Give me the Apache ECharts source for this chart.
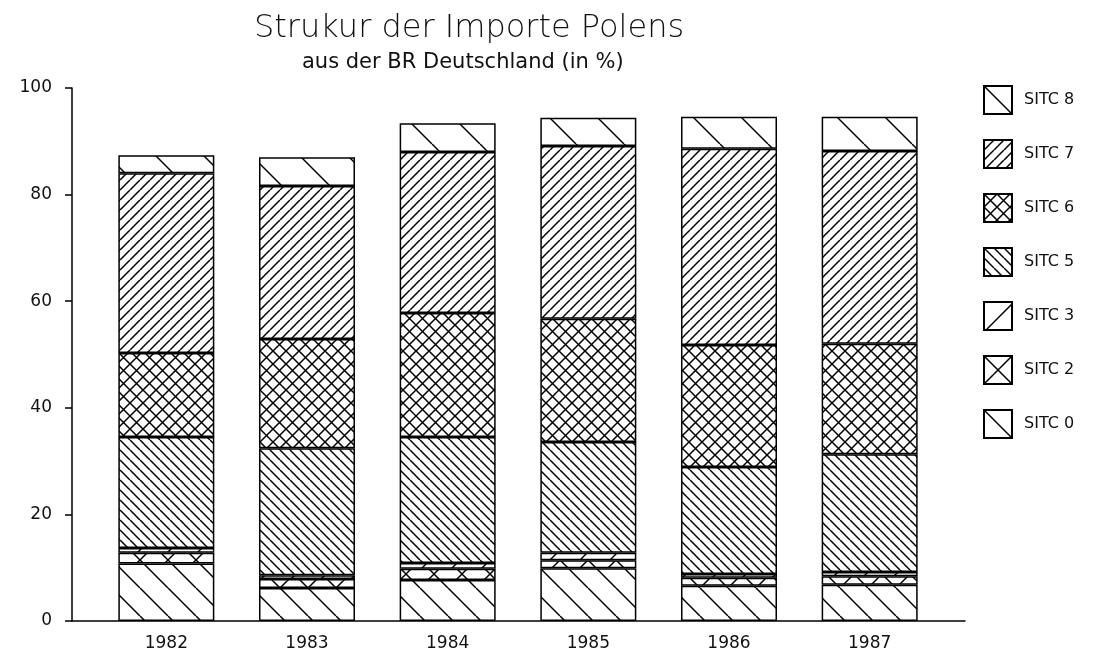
<!DOCTYPE html>
<html>
<head>
<meta charset="utf-8">
<script src="https://cdn.jsdelivr.net/npm/echarts@6/dist/echarts.min.js"></script>
<style>
  html, body { margin: 0; padding: 0; background: #fff; }
  #main { width: 1120px; height: 661px; }
</style>
</head>
<body>
<div id="main"></div>
<script>
let years = ["1982", "1983", "1984", "1985", "1986", "1987"];
let sitc0 = [10.8, 6.2, 7.7, 9.9, 6.6, 6.8];
let sitc2 = [2.0, 1.7, 2.1, 1.5, 1.5, 1.6];
let sitc3 = [0.9, 0.7, 1.1, 1.4, 0.7, 0.8];
let sitc5 = [20.8, 23.8, 23.6, 20.8, 20.1, 22.1];
let sitc6 = [15.8, 20.5, 23.3, 23.1, 22.9, 20.7];
let sitc7 = [33.7, 28.7, 30.2, 32.4, 36.8, 36.2];
let sitc8 = [3.4, 5.4, 5.4, 5.3, 6.0, 6.4];

// hatch tile: "back" = \  "fwd" = /
function hatch(size, dirs) {
  let c = document.createElement("canvas");
  c.width = size;
  c.height = size;
  let ctx = c.getContext("2d");
  ctx.fillStyle = "#fff";
  ctx.fillRect(0, 0, size, size);
  ctx.strokeStyle = "#000";
  ctx.lineWidth = 1.5;
  for (let k = -1; k <= 1; k++) {
    let x0 = k * size;
    ctx.beginPath();
    if (dirs.indexOf("back") >= 0) {
      ctx.moveTo(x0, 0);
      ctx.lineTo(x0 + size, size);
    }
    if (dirs.indexOf("fwd") >= 0) {
      ctx.moveTo(x0, size);
      ctx.lineTo(x0 + size, 0);
    }
    ctx.stroke();
  }
  return { image: c, repeat: "repeat" };
}

let series = [
  { name: "SITC 0", data: sitc0, fill: hatch(28, ["back"]) },
  { name: "SITC 2", data: sitc2, fill: hatch(28, ["back", "fwd"]) },
  { name: "SITC 3", data: sitc3, fill: hatch(30, ["fwd"]) },
  { name: "SITC 5", data: sitc5, fill: hatch(10, ["back"]) },
  { name: "SITC 6", data: sitc6, fill: hatch(13, ["back", "fwd"]) },
  { name: "SITC 7", data: sitc7, fill: hatch(10, ["fwd"]) },
  { name: "SITC 8", data: sitc8, fill: hatch(48, ["back"]) }
].map(function (s) {
  return {
    name: s.name,
    type: "bar",
    stack: "total",
    xAxisIndex: 1,
    yAxisIndex: 1,
    barWidth: 96,
    animation: false,
    itemStyle: {
      color: s.fill,
      borderColor: "#000",
      borderWidth: 1.5
    },
    data: s.data
  };
});

let mycharts = echarts.init(document.getElementById("main"));
let option = {
  backgroundColor: "#fff",
  title: [
    {
      text: "Strukur der Importe Polens",
      left: 249,
      top: 8,
      textStyle: {
        fontFamily: "DejaVu Sans",
        fontWeight: 200,
        fontSize: 32,
        color: "#111"
      }
    },
    {
      text: "aus der BR Deutschland (in %)",
      left: 297,
      top: 47,
      textStyle: {
        fontFamily: "DejaVu Sans",
        fontWeight: "normal",
        fontSize: 21,
        color: "#111"
      }
    }
  ],
  legend: {
    orient: "vertical",
    left: 983,
    top: 85,
    padding: 0,
    icon: "rect",
    itemWidth: 28,
    itemHeight: 28,
    itemGap: 24,
    data: ["SITC 8", "SITC 7", "SITC 6", "SITC 5", "SITC 3", "SITC 2", "SITC 0"],
    textStyle: {
      fontFamily: "DejaVu Sans",
      fontSize: 16,
      color: "#111",
      padding: [0, 0, 0, 7]
    }
  },
  // grid 0: full-length axes, grid 1: the bars
  grid: [
    { left: 72, right: 155, top: 88, bottom: 40 },
    { left: 96, right: 180, top: 88, bottom: 40 }
  ],
  xAxis: [
    {
      type: "value",
      gridIndex: 0,
      min: 0,
      max: 1,
      splitLine: { show: false },
      axisLine: { lineStyle: { color: "#000", width: 1.5 } },
      axisTick: { show: false },
      axisLabel: { show: false }
    },
    {
      type: "category",
      gridIndex: 1,
      data: years,
      axisLine: { show: false },
      axisTick: {
        alignWithLabel: true,
        length: 6,
        lineStyle: { color: "#000", width: 1.5 }
      },
      axisLabel: {
        margin: 14,
        fontFamily: "DejaVu Sans",
        fontSize: 17,
        color: "#111"
      }
    }
  ],
  yAxis: [
    {
      type: "value",
      gridIndex: 0,
      min: 0,
      max: 100,
      interval: 20,
      splitLine: { show: false },
      axisLine: { show: true, lineStyle: { color: "#000", width: 1.5 } },
      axisTick: { show: true, length: 7, lineStyle: { color: "#000", width: 1.5 } },
      axisLabel: {
        margin: 20,
        fontFamily: "DejaVu Sans",
        fontSize: 17,
        color: "#111"
      }
    },
    {
      type: "value",
      gridIndex: 1,
      min: 0,
      max: 100,
      show: false
    }
  ],
  series: series
};
mycharts.setOption(option);
</script>
</body>
</html>
